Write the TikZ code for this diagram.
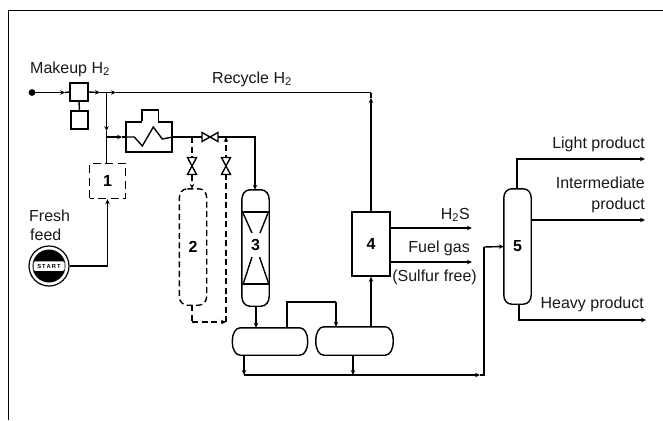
\documentclass[tikz,border=0pt]{standalone}
\usepackage{fontspec}
\setmainfont{Liberation Sans}
\usetikzlibrary{arrows.meta,calc}
\tikzset{
  x=1pt,y=-1pt,
  line/.style={line width=1.4pt,draw=black,line join=miter},
  flow/.style={line,-{Stealth[length=5pt,width=4.5pt]}},
  dash1/.style={line,dash pattern=on 6pt off 3.5pt},
  dflow/.style={dash1,-{Stealth[length=5pt,width=4.5pt]}},
  txt/.style={font=\fontsize{16}{18}\selectfont,inner sep=0pt,text=black!90},
  num/.style={font=\fontsize{16}{18}\selectfont\bfseries,inner sep=0pt},
  box/.style={line,rectangle,inner sep=0pt},
  bodyn/.style={inner sep=0pt,minimum width=#1,font=\fontsize{16}{18}\selectfont\bfseries},
}
% elliptical-cornered vessel around a named node
\newcommand{\vessel}[4][line]{%
  \draw[#1] ($(#2.north west)+(#3,0)$) -- ($(#2.north east)+(-#3,0)$)
    .. controls +(0.6*#3,0) and ($(#2.north east)+(0,0.45*#4)$) .. ($(#2.north east)+(0,#4)$)
    -- ($(#2.south east)+(0,-#4)$)
    .. controls ($(#2.south east)+(0,-0.45*#4)$) and ($(#2.south east)+(-0.4*#3,0)$) .. ($(#2.south east)+(-#3,0)$)
    -- ($(#2.south west)+(#3,0)$)
    .. controls ($(#2.south west)+(0.4*#3,0)$) and ($(#2.south west)+(0,-0.45*#4)$) .. ($(#2.south west)+(0,-#4)$)
    -- ($(#2.north west)+(0,#4)$)
    .. controls ($(#2.north west)+(0,0.45*#4)$) and ($(#2.north west)+(0.4*#3,0)$) .. cycle;}
% bow-tie valve
\newcommand{\hvalve}[1]{\draw[line,fill=white] ($(#1)+(-8,-4.5)$) -- ($(#1)+(8,4.5)$) -- ($(#1)+(8,-4.5)$) -- ($(#1)+(-8,4.5)$) -- cycle;}
\newcommand{\vvalve}[1]{\draw[line,fill=white] ($(#1)+(-4.5,-8.5)$) -- ($(#1)+(4.5,8.5)$) -- ($(#1)+(-4.5,8.5)$) -- ($(#1)+(4.5,-8.5)$) -- cycle;}
\begin{document}
\begin{tikzpicture}
\useasboundingbox (0,0) rectangle (663,420);
\fill[white] (0,0) rectangle (663,420);
\draw[line width=1.5pt] (8.5,420) -- (8.5,10.5) -- (663,10.5);

% equipment
\node[box,draw,minimum width=18pt,minimum height=18pt] (comp) at (79,92) {};
\node[box,draw,minimum width=17pt,minimum height=18pt] (drv) at (79.5,120) {};
\node[box,draw,dash pattern=on 8pt off 4.5pt,dash phase=4pt,minimum width=36pt,minimum height=35pt,num] (r1) at (107.5,181) {1};
\node[box,draw,minimum width=46pt,minimum height=30pt] (hx) at (149,137) {};
\node[inner sep=0pt,minimum width=16pt,minimum height=12pt] (hump) at (150,116) {};
\node[bodyn=27pt,minimum height=116pt] (v2) at (193,247) {2};
\node[bodyn=27pt,minimum height=116pt] (v3) at (255.5,248) {};
\node[bodyn=75pt,minimum height=27pt] (d1) at (270,341.5) {};
\node[bodyn=77pt,minimum height=28pt] (d2) at (354.5,341) {};
\node[box,draw,minimum width=38pt,minimum height=64pt,num] (b4) at (371,244) {4};
\node[bodyn=27pt,minimum height=115pt] (t5) at (517.5,246.5) {5};
\node[num] (n3) at (255.5,245) {3};
\node[circle,draw,line width=1.2pt,minimum size=40pt,inner sep=0pt,fill=white] (st) at (49,266) {};
\fill (st.center) circle (16.5pt);
\node[fill=white,rounded corners=1.5pt,minimum width=31pt,minimum height=9.5pt,inner sep=0pt,font=\fontsize{5.8}{6}\selectfont\bfseries] (stl) at (49,266) {S\,T\,A\,R\,T};

\vessel[dash1]{v2}{8}{9}
\vessel{v3}{8}{10}
\vessel{d1}{8}{13}
\vessel{d2}{8}{13.5}
\vessel{t5}{8}{9}

% named junctions
\coordinate (start) at (32,92.5);
\coordinate (a0) at (65,92.5);
\coordinate (a1) at (100,92.5);
\coordinate (j1) at (106.5,92.5);
\coordinate (a3) at (116,92.5);
\coordinate (jr) at (371,92.5);
\coordinate (a4) at (371,98);
\coordinate (a5) at (106.5,131);
\coordinate (j2) at (106.5,137);
\coordinate (a6) at (122,137);
\coordinate (vH) at (210,137);
\coordinate (c2) at (192,137);
\coordinate (c3) at (226,137);
\coordinate (t3) at (255,137);
\coordinate (w2) at (192,166);
\coordinate (w3) at (226,166);
\coordinate (f) at (107.5,266);
\coordinate (b1) at (192,322);
\coordinate (b2) at (226,322);
\coordinate (k1) at (287,302);
\coordinate (k2) at (336,302);
\coordinate (p1) at (244,375);
\coordinate (p2) at (353,375);
\coordinate (p3) at (484,375);
\coordinate (p4) at (484,247);
\coordinate (a7) at (480,375);

% makeup / recycle lines
\fill (start) circle (3.4pt);
\draw[flow] (start) -- (a0);
\draw[line] (a0) -- (comp.west);
\draw[line] (comp.south) -- (drv.north);
\draw[flow] (comp.east) -- (a1);
\draw[line] (a1) -- (j1);
\draw[flow] (j1) -- (a3);
\draw[line] (a3) -- (jr);
\draw[flow] (j1) -- (a5);
\draw[line] (a5) -- (j2);
\draw[line] (j2) -- (r1.north -| j2);
\draw[flow] (j2) -- (a6);
\draw[line] (a6) -- (hx.west);
\draw[flow] (b4.north) -- (a4);
\draw[line] (a4) -- (jr);

% feed
\draw[flow] (st.east |- f) -- (f) -- (r1.south -| f);

% heat exchanger
\draw[line] (hump.south west) |- (hump.north east) -- (hump.south east);
\draw[white,line width=1.8pt] (hump.south west) -- (hump.south east);
\draw[line] (hx.west) -- ++(9,0) -- ++(8,9) -- ++(11,-19) -- ++(9,12) -- (hx.east);

% line to reactor 3
\draw[line] (hx.east) -- ($(vH)+(-8,0)$);
\draw[flow] ($(vH)+(8,0)$) -- (t3) -- (v3.north -| t3);
\hvalve{vH}

% dashed branches
\draw[dflow] (c2) -- (v2.north -| c2);
\draw[dash1] (v2.south -| b1) -- (b1);
\draw[dflow] (b1) -- (b2);
\draw[dflow] (b2) -- (c3);
\vvalve{w2}
\vvalve{w3}

% reactor 3 internals
\draw[line] (v3.north west |- 0,212) -- (v3.north east |- 0,212);
\draw[line] (v3.north west |- 0,284) -- (v3.north east |- 0,284);
\draw[line] (243,213) -- (252,233);
\draw[line] (268,213) -- (260,233);
\draw[line] (243.5,283) -- (252,257);
\draw[line] (268.5,283) -- (259.5,257);

% drums
\draw[flow] (v3.south) ++(0.5,0) -- (d1.north -| 256,0);
\draw[line] (d1.north -| k1) -- (k1) -- (k2);
\draw[flow] (k2) -- (d2.north -| k2);
\draw[flow] (d2.north -| b4) -- (b4.south);

% bottoms
\draw[flow] (d1.south -| p1) -- (p1);
\draw[flow] (d2.south -| p2) -- (p2);
\draw[flow] (p1) -- (a7);
\draw[line] (a7) -- (p3) -- (p4);
\draw[flow] (p4) -- (t5.west);

% unit 4 outputs
\coordinate (h2s) at (472,228);
\coordinate (fg) at (472,262);
\draw[flow] (b4.east |- h2s) -- (h2s);
\draw[flow] (b4.east |- fg) -- (fg);

% tower outputs
\coordinate (o1a) at (517,159);
\coordinate (o1) at (645,159);
\coordinate (o2) at (645,220);
\coordinate (o3a) at (519,320);
\coordinate (o3) at (646,320);
\draw[flow] (t5.north -| o1a) -- (o1a) -- (o1);
\draw[flow] (t5.east |- o2) -- (o2);
\draw[flow] (t5.south -| o3a) -- (o3a) -- (o3);

% labels
\node[txt,anchor=base west] (lm) at (30,73) {Makeup H\textsubscript{2}};
\node[txt,anchor=base west] (lr) at (212,83) {Recycle H\textsubscript{2}};
\node[txt,anchor=base west] (lf1) at (29,221) {Fresh};
\node[txt,anchor=base west] (lf2) at (30,240) {feed};
\node[txt,anchor=base east] (l1) at (470,219) {H\textsubscript{2}S};
\node[txt,anchor=base east] (l2) at (470,252) {Fuel gas};
\node[txt,anchor=base east] (l3) at (477,281) {(Sulfur free)};
\node[txt,anchor=base east] (l4) at (645,148) {Light product};
\node[txt,anchor=base east] (l5) at (645,188) {Intermediate};
\node[txt,anchor=base east] (l6) at (645,209) {product};
\node[txt,anchor=base east] (l7) at (644,308) {Heavy product};
\end{tikzpicture}
\end{document}
